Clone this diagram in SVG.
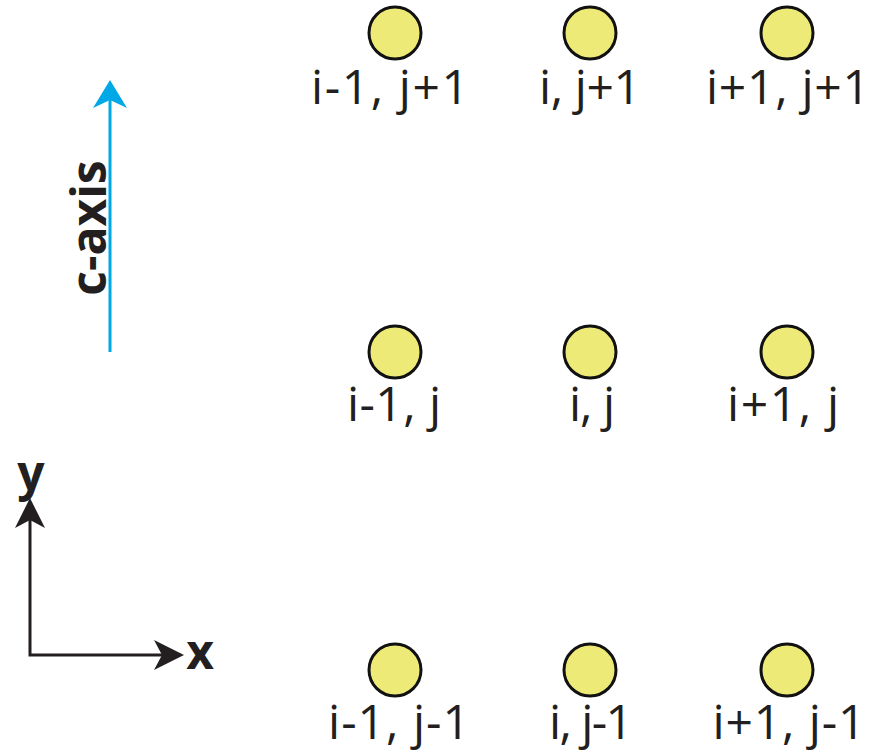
<svg xmlns="http://www.w3.org/2000/svg" width="871" height="755" viewBox="0 0 871 755">
<style>
.node circle{fill:#eeea78;stroke:#111;stroke-width:3}
.lbl{font-family:"Open Sans","Liberation Sans",sans-serif;font-size:48px;fill:#231f20;text-anchor:middle}
.ax{font-family:"Open Sans","Liberation Sans",sans-serif;font-weight:bold;font-size:48px;fill:#231f20}
</style>
<g id="n-im1-jp1" class="node"><circle cx="395" cy="33" r="26"/><text class="lbl" x="390" y="104" textLength="158" lengthAdjust="spacing">i-1, j+1</text></g>
<g id="n-i-jp1" class="node"><circle cx="590" cy="33" r="26"/><text class="lbl" x="590" y="104" textLength="102" lengthAdjust="spacing">i, j+1</text></g>
<g id="n-ip1-jp1" class="node"><circle cx="787" cy="33" r="26"/><text class="lbl" x="788" y="104" textLength="164" lengthAdjust="spacing">i+1, j+1</text></g>
<g id="n-im1-j" class="node"><circle cx="395" cy="352" r="26"/><text class="lbl" x="394" y="421" textLength="94" lengthAdjust="spacing">i-1, j</text></g>
<g id="n-i-j" class="node"><circle cx="590" cy="352" r="26"/><text class="lbl" x="592" y="421" textLength="46" lengthAdjust="spacing">i, j</text></g>
<g id="n-ip1-j" class="node"><circle cx="787" cy="352" r="26"/><text class="lbl" x="783" y="421" textLength="112" lengthAdjust="spacing">i+1, j</text></g>
<g id="n-im1-jm1" class="node"><circle cx="395" cy="670" r="26"/><text class="lbl" x="399" y="739" textLength="142" lengthAdjust="spacing">i-1, j-1</text></g>
<g id="n-i-jm1" class="node"><circle cx="590" cy="670" r="26"/><text class="lbl" x="591" y="739" textLength="84" lengthAdjust="spacing">i, j-1</text></g>
<g id="n-ip1-jm1" class="node"><circle cx="787" cy="670" r="26"/><text class="lbl" x="789" y="739" textLength="153" lengthAdjust="spacing">i+1, j-1</text></g>
<g id="connectors">
<line x1="110" y1="352" x2="110" y2="100" stroke="#00a9e6" stroke-width="3"/>
<path d="M110,80 L127,108 L110,100 L93,108 Z" fill="#00a9e6"/>
<text class="ax" transform="translate(106,228) rotate(-90)" text-anchor="middle">c-axis</text>
<polyline points="30,510 30,655 170,655" fill="none" stroke="#231f20" stroke-width="3"/>
<path d="M30,498 L45,528 L30,520 L15,528 Z" fill="#231f20"/>
<path d="M184,655 L154,640 L162,655 L154,670 Z" fill="#231f20"/>
<text class="ax" x="31" y="490" text-anchor="middle">y</text>
<text class="ax" x="200" y="669" text-anchor="middle">x</text>
</g>
</svg>
